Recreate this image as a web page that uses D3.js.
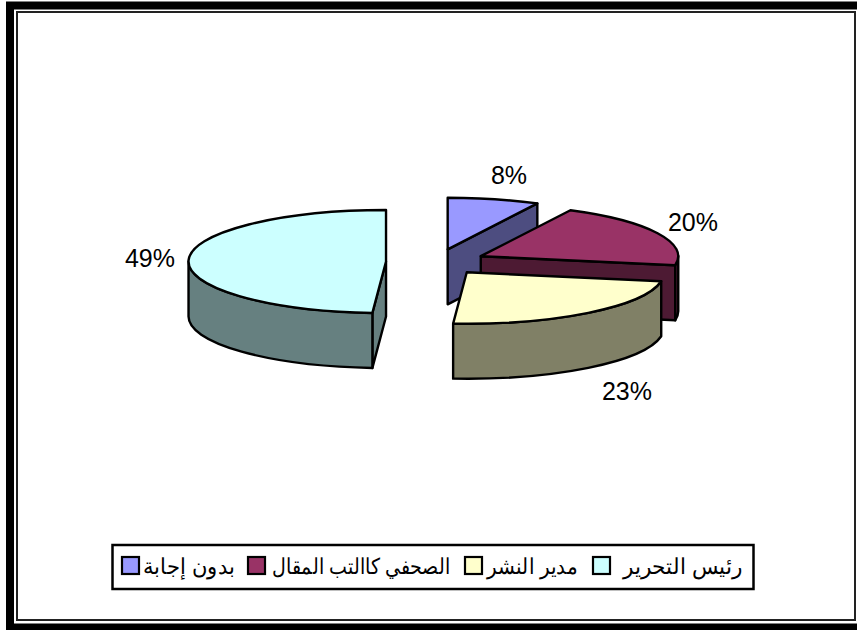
<!DOCTYPE html>
<html lang="ar">
<head>
<meta charset="utf-8">
<script src="https://cdnjs.cloudflare.com/ajax/libs/d3/7.8.5/d3.min.js"></script>
<style>
html, body { margin: 0; padding: 0; background: #fff; }
svg { display: block; }
text { font-family: "Liberation Sans", Arial, sans-serif; fill: #000; }
</style>
</head>
<body>
<div id="chart"></div>
<script>
var categories = ["بدون إجابة", "الصحفي كاالتب المقال", "مدير النشر", "رئيس التحرير"];
var values = [7.5, 20.3, 23.3, 48.9];
var valueLabels = ["8%", "20%", "23%", "49%"];
var colors = ["#9999ff", "#993366", "#ffffcc", "#ccffff"];
var legendOrder = [3, 2, 1, 0];

var w = 857;
var h = 630;
var cx = 436, cy = 262;   // centre before the slices are pulled out
var rx = 197.5, ry = 51.5;
var depth = 55;
var explode = 50;
var labelPos = [[509, 175], [693, 222], [627, 391], [150, 258]];

var svg = d3.select("#chart").append("svg")
	.attr("width", w)
	.attr("height", h);

svg.append("rect").attr("x", 0).attr("y", 0).attr("width", w).attr("height", h).attr("fill", "#fff");

// double frame, the thick one runs off the right side of the picture
svg.append("rect").attr("x", 10).attr("y", 5.5).attr("width", w).attr("height", 622)
	.attr("fill", "none").attr("stroke", "#000").attr("stroke-width", 8);
svg.append("rect").attr("x", 17).attr("y", 12).attr("width", 838).attr("height", 608)
	.attr("fill", "#fff").attr("stroke", "#222").attr("stroke-width", 2);

var pie = d3.pie().sort(null).startAngle(0).endAngle(2 * Math.PI);
var slices = pie(values);

function px(c, a) { return c.x + rx * Math.sin(a); }
function py(c, a) { return c.y - ry * Math.cos(a); }

// piece of the rim between two angles, at height dy
function rim(c, a0, a1, dy, reverse) {
	var to = reverse ? a0 : a1;
	var large = Math.abs(a1 - a0) > Math.PI ? 1 : 0;
	return "A" + rx + "," + ry + " 0 " + large + " " + (reverse ? 0 : 1) + " " + px(c, to) + "," + (py(c, to) + dy);
}

function wallColor(col) {
	var c = d3.rgb(col);
	return d3.rgb(c.r * 0.5, c.g * 0.5, c.b * 0.5).formatHex();
}

function cutWall(c, a) {
	return "M" + c.x + "," + c.y + "L" + px(c, a) + "," + py(c, a) +
		"L" + px(c, a) + "," + (py(c, a) + depth) + "L" + c.x + "," + (c.y + depth) + "Z";
}

var g = svg.append("g")
	.attr("stroke", "#000")
	.attr("stroke-width", 2.4)
	.attr("stroke-linejoin", "round");

slices.forEach(function(d, i) {
	var mid = (d.startAngle + d.endAngle) / 2;
	var c = { x: cx + explode * Math.sin(mid), y: cy - explode * (ry / rx) * Math.cos(mid) };
	var dark = wallColor(colors[i]);

	// cut faces that look at the viewer
	if (d.endAngle < Math.PI) g.append("path").attr("d", cutWall(c, d.endAngle)).attr("fill", dark);
	if (d.startAngle > Math.PI) g.append("path").attr("d", cutWall(c, d.startAngle)).attr("fill", dark);

	// outer wall, front half only
	var a0 = Math.max(d.startAngle, Math.PI / 2), a1 = Math.min(d.endAngle, 3 * Math.PI / 2);
	if (a0 < a1) {
		g.append("path")
			.attr("d", "M" + px(c, a0) + "," + py(c, a0) + rim(c, a0, a1, 0, false) +
				"L" + px(c, a1) + "," + (py(c, a1) + depth) + rim(c, a0, a1, depth, true) + "Z")
			.attr("fill", dark);
	}

	// top face
	g.append("path")
		.attr("d", "M" + c.x + "," + c.y + "L" + px(c, d.startAngle) + "," + py(c, d.startAngle) +
			rim(c, d.startAngle, d.endAngle, 0, false) + "Z")
		.attr("fill", colors[i]);
});

svg.selectAll("text.pct")
	.data(valueLabels)
	.enter().append("text")
	.attr("class", "pct")
	.attr("x", function(d, i) { return labelPos[i][0]; })
	.attr("y", function(d, i) { return labelPos[i][1]; })
	.attr("dy", "0.35em")
	.attr("text-anchor", "middle")
	.attr("font-size", 25)
	.text(function(d) { return d; });

// legend, laid out right to left
svg.append("rect").attr("x", 112.5).attr("y", 545).attr("width", 641).attr("height", 44)
	.attr("fill", "#fff").attr("stroke", "#000").attr("stroke-width", 2.5);

var legendLeft = [623, 487, 272, 143];
var legendWidth = [120, 91, 178, 92];
var swatchX = [593, 465, 248, 122];
legendOrder.forEach(function(k, i) {
	svg.append("rect")
		.attr("x", swatchX[i]).attr("y", 557).attr("width", 17).attr("height", 17)
		.attr("fill", colors[k]).attr("stroke", "#000").attr("stroke-width", 2.2);
	svg.append("text")
		.attr("x", legendLeft[i])
		.attr("y", 566)
		.attr("dy", "0.35em")
		.attr("font-size", 22)
		.attr("textLength", legendWidth[i])
		.attr("lengthAdjust", "spacingAndGlyphs")
		.text(categories[k]);
});
</script>
</body>
</html>
